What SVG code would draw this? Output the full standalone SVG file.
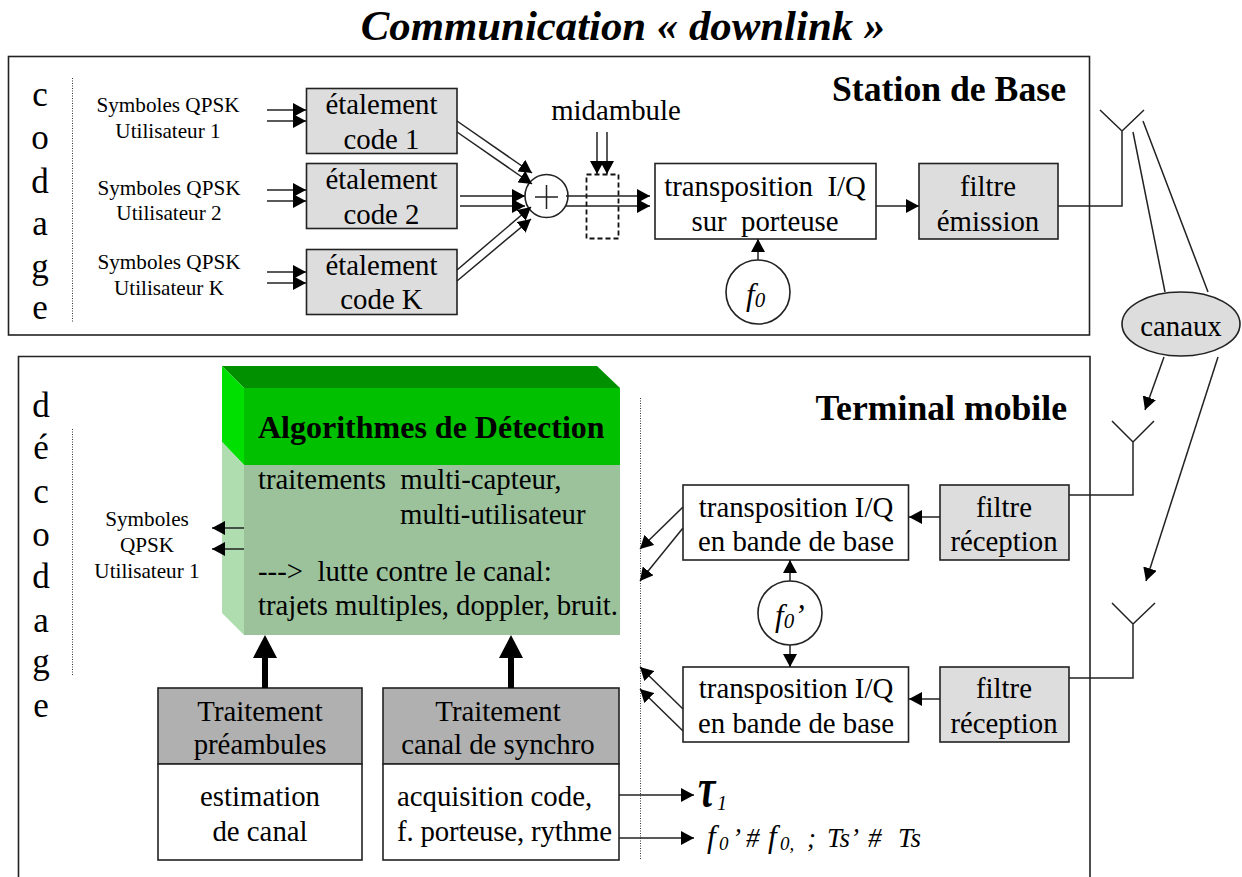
<svg xmlns="http://www.w3.org/2000/svg" width="1242" height="877" viewBox="0 0 1242 877">
<style>
text{font-family:"Liberation Serif","Times New Roman",serif;fill:#000;white-space:pre}
.t{font-size:28.800px;transform:translateY(1px)}.m{text-anchor:middle}.s{font-size:21.200px}.l{font-size:35px;text-anchor:middle;transform:translateY(1px)}
.h{font-size:35.700px;font-weight:bold;text-anchor:end;transform:translateY(1.500px)}.i{font-style:italic}
.b{stroke:#222;stroke-width:1.6;fill:#fff}.g{fill:#ddd}.k{fill:#b0b0b0}
.c{stroke:#222;stroke-width:1.5;fill:none}.a{marker-end:url(#ah)}
.d{stroke:#333;stroke-width:1;stroke-dasharray:1 1.5;fill:none}
</style>
<defs>
<marker id="ah" markerUnits="userSpaceOnUse" markerWidth="13" markerHeight="14" refX="13" refY="7" orient="auto" viewBox="0 0 13 14"><path d="M0 0L13 7L0 14Z" fill="#000"/></marker>
</defs>
<text x="623" y="40" class="m i" style="font-size:42.800px;font-weight:bold">Communication « downlink »</text>
<g id="station-de-base"><rect x="8.500" y="56.500" width="1081" height="278.500" class="b"/>
<text x="1066" y="99" class="h">Station de Base</text></g>
<g id="terminal-mobile"><path d="M18.500 890V356.500H1090V890" class="b"/>
<text x="1067" y="418" class="h">Terminal mobile</text></g>
<g id="codage"><path d="M72.500 78V323" class="d"/>
<text x="40" y="105" class="l">c</text><text x="40" y="148" class="l">o</text><text x="40" y="192" class="l">d</text><text x="40" y="234" class="l">a</text><text x="40" y="277" class="l">g</text><text x="40" y="318" class="l">e</text></g>
<g id="decodage"><path d="M72.500 429V675" class="d"/>
<text x="41" y="416" class="l">d</text><text x="41" y="458" class="l">é</text><text x="41" y="502" class="l">c</text><text x="41" y="545" class="l">o</text><text x="41" y="587" class="l">d</text><text x="41" y="631" class="l">a</text><text x="41" y="672" class="l">g</text><text x="41" y="716" class="l">e</text></g>
<g id="symboles"><text x="168" y="112" class="s m">Symboles QPSK</text><text x="168" y="138" class="s m">Utilisateur 1</text>
<text x="169" y="195" class="s m">Symboles QPSK</text><text x="169" y="220" class="s m">Utilisateur 2</text>
<text x="169" y="269" class="s m">Symboles QPSK</text><text x="169" y="295" class="s m">Utilisateur K</text></g>
<g id="etalement-1"><rect x="306.500" y="88.500" width="150.500" height="65" class="b g"/><text x="381.500" y="113" class="t m">étalement</text><text x="381.500" y="148" class="t m">code 1</text></g>
<g id="etalement-2"><rect x="306.500" y="163.500" width="150.500" height="65" class="b g"/><text x="381.500" y="188" class="t m">étalement</text><text x="381.500" y="223" class="t m">code 2</text></g>
<g id="etalement-k"><rect x="306.500" y="249.500" width="150.500" height="65" class="b g"/><text x="381.500" y="274" class="t m">étalement</text><text x="381.500" y="308" class="t m">code K</text></g>
<g id="somme"><ellipse cx="546.500" cy="196" rx="21.500" ry="21.500" class="b"/><path d="M535 197H558M546.500 185V209" class="c"/></g>
<g id="midambule"><text x="616" y="119" class="t m">midambule</text><rect x="586.500" y="174.500" width="32" height="64" fill="none" stroke="#111" stroke-width="1.800" stroke-dasharray="5 3"/></g>
<g id="transposition-porteuse"><rect x="655" y="163.500" width="221" height="75.500" class="b"/><text x="765" y="195" class="t m">transposition  I/Q</text><text x="765" y="230" class="t m">sur  porteuse</text></g>
<g id="filtre-emission"><rect x="919" y="163.500" width="139" height="75.500" class="b g"/><text x="988" y="195" class="t m">filtre</text><text x="988" y="230" class="t m">émission</text></g>
<g id="f0"><ellipse cx="758" cy="292" rx="32" ry="32" class="b"/><text x="746" y="305" class="i" font-size="31">f<tspan font-size="21" dy="2">0</tspan></text></g>
<g id="canaux"><ellipse cx="1181" cy="324" rx="59" ry="32" class="b g"/><text x="1181" y="335" class="t m">canaux</text></g>
<g id="detection">
<path d="M222 366H597L620 388H244Z" fill="#009000"/><path d="M222 366L244 388V465L222 442Z" fill="#00e000"/><rect x="244" y="388" width="376" height="77" fill="#00c000"/>
<path d="M222 442L244 465V635L222 613Z" fill="#b0ddb0"/><rect x="244" y="465" width="376" height="170" fill="#9cc29c"/>
<text x="258" y="438" style="font-size:32px;font-weight:bold">Algorithmes de Détection</text>
<text x="258" y="488" class="t">traitements  multi-capteur,</text><text x="400" y="523" class="t">multi-utilisateur</text>
<text x="258" y="580" class="t">---&gt;  lutte contre le canal:</text><text x="258" y="614" class="t" textLength="360">trajets multiples, doppler, bruit.</text></g>
<g id="symboles-sortie"><text x="147" y="526" class="s m">Symboles</text><text x="147" y="552" class="s m">QPSK</text><text x="147" y="578" class="s m">Utilisateur 1</text></g>
<g id="transposition-bande-1"><rect x="683" y="485" width="225.500" height="75" class="b"/><text x="796" y="516" class="t m">transposition I/Q</text><text x="796" y="550" class="t m">en bande de base</text></g>
<g id="transposition-bande-2"><rect x="683" y="667" width="225.500" height="75" class="b"/><text x="796" y="697" class="t m">transposition I/Q</text><text x="796" y="732" class="t m">en bande de base</text></g>
<g id="filtre-reception-1"><rect x="940" y="485" width="129" height="75" class="b g"/><text x="1004" y="516" class="t m">filtre</text><text x="1004" y="550" class="t m">réception</text></g>
<g id="filtre-reception-2"><rect x="940" y="667" width="129" height="75" class="b g"/><text x="1004" y="697" class="t m">filtre</text><text x="1004" y="732" class="t m">réception</text></g>
<g id="f0-prime"><ellipse cx="790" cy="613" rx="32" ry="32" class="b"/><text x="775" y="626" class="i" font-size="31">f<tspan font-size="21" dy="2">0</tspan><tspan dy="-2">’</tspan></text></g>
<g id="traitement-preambules"><rect x="158" y="688" width="204" height="76" class="b k"/><rect x="158" y="764" width="204" height="96" class="b"/><text x="260" y="720" class="t m">Traitement</text><text x="260" y="753" class="t m">préambules</text><text x="260" y="805" class="t m">estimation</text><text x="260" y="840" class="t m">de canal</text></g>
<g id="traitement-synchro"><rect x="383" y="688" width="236" height="76" class="b k"/><rect x="383" y="764" width="236" height="96" class="b"/><text x="498" y="720" class="t m">Traitement</text><text x="498" y="753" class="t m">canal de synchro</text><text x="397" y="805" class="t">acquisition code,</text><text x="397" y="840" class="t" textLength="215">f. porteuse, rythme</text></g>
<g id="sorties"><text transform="translate(698 806) scale(.85 1.2)" class="i" style="font-size:46px;font-weight:bold">τ</text><text x="717" y="810" class="i" font-size="20">1</text>
<text y="847" class="i" font-size="27"><tspan x="707" font-size="31">f</tspan><tspan x="719" font-size="19" dy="3">0</tspan><tspan dy="-3" x="732">’</tspan><tspan x="746">#</tspan><tspan x="768" font-size="31">f</tspan><tspan x="780" font-size="19" dy="3">0,</tspan><tspan dy="-3" x="807">;</tspan><tspan x="827">Ts’</tspan><tspan x="868">#</tspan><tspan x="898">Ts</tspan></text></g>
<g id="connecteurs">
<path d="M640.500 398V860" class="d"/>
<path class="c a" d="M267 110H306"/><path class="c a" d="M267 121H306"/><path class="c a" d="M267 190H306"/><path class="c a" d="M267 201H306"/><path class="c a" d="M267 272H306"/><path class="c a" d="M267 283H306"/>
<path class="c a" d="M457 121L532 173"/><path class="c a" d="M457 132L532 184"/>
<path class="c a" d="M460 196H525"/><path class="c a" d="M460 206H525"/>
<path class="c a" d="M457 270L531 207"/><path class="c a" d="M457 281L531 219"/>
<path class="c a" d="M566 196H650"/><path class="c a" d="M566 206H650"/>
<path class="c a" d="M597 132V174"/><path class="c a" d="M607 132V174"/>
<path class="c a" d="M876 206H919"/><path class="c a" d="M758 260V239"/>
<path class="c" d="M1058 206H1122V131M1100 110L1122 131L1144 110"/>
<path class="c" d="M1133 132L1165 292M1143 121L1208 292"/>
<path class="c a" d="M1164 357L1145 410"/><path class="c a" d="M1218 357L1146 581"/>
<path class="c" d="M1069 495H1133V442M1112 421L1133 442L1154 421"/>
<path class="c" d="M1069 678H1133V624M1112 603L1133 624L1155 603"/>
<path class="c a" d="M940 517H909"/><path class="c a" d="M940 699H909"/>
<path class="c a" d="M790 581V560"/><path class="c a" d="M790 645V667"/>
<path class="c a" d="M683 507L640 549"/><path class="c a" d="M683 528L640 581"/>
<path class="c a" d="M683 709L640 667"/><path class="c a" d="M683 731L640 689"/>
<path class="c a" d="M244 528H212"/><path class="c a" d="M244 549H212"/>
<path d="M262 688V658H253L265 635L277 658H268V688Z" fill="#000"/><path d="M508 688V658H499L511 635L523 658H514V688Z" fill="#000"/>
<path class="c a" d="M619 795H694"/><path class="c a" d="M619 838H694"/>
</g>
</svg>
